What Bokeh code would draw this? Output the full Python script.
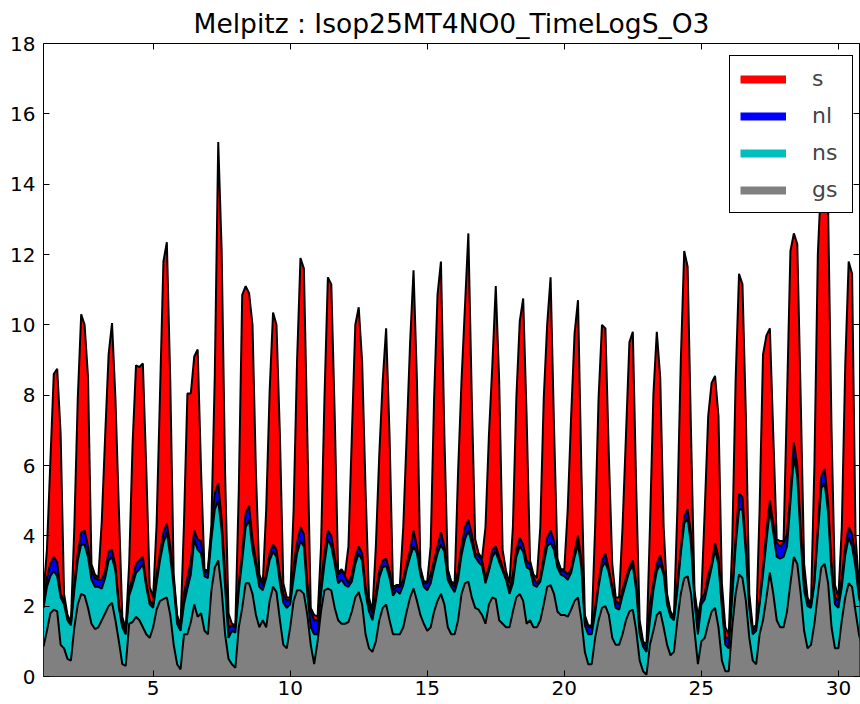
import numpy as np
from bokeh.plotting import figure
from bokeh.models import Range1d, LinearAxis, Legend, LegendItem, FixedTicker
from bokeh.embed import file_html
from bokeh.resources import INLINE

title = "Melpitz : Isop25MT4NO0_TimeLogS_O3"
days = list(range(1, 31))
hours = [0, 3, 6, 9, 12, 15, 18, 21]
x_ticks = [5, 10, 15, 20, 25, 30]
y_ticks = [0, 2, 4, 6, 8, 10, 12, 14, 16, 18]
stack_order = ["gs", "ns", "nl", "s"]
legend_order = ["s", "nl", "ns", "gs"]
colors = {"gs": "#808080", "ns": "#00bfbf", "nl": "#0000ff", "s": "#ff0000"}

gs = [
    0.85, 1.3, 1.8, 1.9, 1.85, 0.9, 0.8, 0.5,
    0.45, 1.4, 2.05, 2.35, 2.3, 1.95, 1.5, 1.35,
    1.4, 1.6, 1.8, 2.0, 2.1, 1.6, 1.0, 0.35,
    0.3, 1.5, 1.55, 1.7, 1.6, 1.4, 1.2, 1.1,
    1.4, 1.9, 2.15, 2.2, 2.25, 1.75, 0.9, 0.35,
    0.2, 1.2, 1.2, 1.55, 2.05, 1.7, 1.8, 1.3,
    1.2, 2.45, 3.1, 3.3, 2.45, 1.2, 0.5, 0.35,
    0.25, 1.4, 1.95, 2.65, 2.65, 2.35, 1.75, 1.4,
    1.6, 1.4, 2.15, 2.55, 2.4, 1.6, 0.9, 0.8,
    1.4, 2.15, 2.45, 2.45, 2.35, 1.75, 0.9, 0.35,
    1.0, 1.85, 2.45, 2.5, 2.45, 1.95, 1.6, 1.5,
    1.5, 1.55, 1.85, 2.25, 2.4, 2.05, 1.2, 0.8,
    0.7, 1.0, 1.6, 1.95, 2.05, 1.6, 1.2, 1.2,
    1.2, 1.4, 1.85, 2.25, 2.5, 2.15, 1.75, 1.5,
    1.3, 1.4, 1.85, 2.15, 2.35, 2.05, 1.4, 1.2,
    1.2, 1.6, 2.35, 2.65, 2.7, 2.25, 1.95, 1.9,
    1.75, 1.5, 2.05, 2.25, 2.2, 1.6, 1.5, 1.4,
    1.4, 1.85, 2.25, 2.35, 2.15, 1.5, 1.6, 1.4,
    1.4, 1.6, 2.05, 2.55, 2.6, 2.35, 1.85, 1.75,
    1.75, 1.7, 1.9, 2.15, 2.25, 1.6, 0.7, 0.35,
    0.35, 1.1, 1.6, 1.95, 2.0, 1.75, 1.1, 0.9,
    0.9, 1.2, 1.6, 1.85, 1.9, 1.3, 0.45, 0.15,
    0.05, 0.9, 1.3, 1.75, 1.85, 1.4, 0.9, 0.6,
    0.7, 1.6, 2.35, 2.8, 2.85, 2.35, 1.3, 0.35,
    1.0, 1.1, 1.5, 1.85, 1.95, 1.4, 0.45, 0.15,
    0.15, 1.4, 2.35, 2.9, 2.8, 2.15, 1.1, 0.45,
    0.35, 1.2, 1.6, 2.25, 2.95, 2.35, 1.6, 1.4,
    1.4, 1.85, 2.65, 3.4, 3.2, 2.35, 1.3, 0.8,
    0.9, 1.5, 2.35, 3.1, 3.2, 2.65, 1.4, 0.8,
    0.8, 1.6, 2.25, 2.65, 2.55, 1.85, 1.2, 0.8,
]

ns = [
    1.1, 1.25, 1.05, 1.1, 1.0, 1.35, 1.25, 1.1,
    1.0, 1.05, 1.25, 1.4, 1.45, 1.45, 1.25, 1.2,
    1.15, 0.9, 1.0, 1.3, 1.3, 1.4, 0.95, 1.05,
    0.9, 0.8, 1.05, 1.25, 1.45, 1.8, 1.35, 0.95,
    0.55, 0.75, 1.15, 1.6, 1.85, 1.65, 1.65, 1.15,
    1.1, 0.85, 1.3, 1.35, 1.85, 1.9, 1.7, 1.55,
    1.6, 1.45, 1.65, 1.7, 1.7, 1.35, 0.6, 0.95,
    1.0, 1.05, 1.35, 1.6, 1.8, 1.25, 1.35, 1.15,
    0.85, 1.4, 1.15, 1.0, 1.0, 1.05, 1.2, 1.15,
    0.65, 0.65, 1.05, 1.4, 1.35, 0.6, 0.5, 0.85,
    0.2, 0.5, 0.75, 1.4, 1.25, 1.25, 1.05, 1.25,
    1.1, 1.0, 0.85, 0.95, 1.1, 1.25, 1.15, 1.05,
    0.9, 1.15, 1.2, 1.15, 1.1, 1.2, 1.1, 1.25,
    1.15, 1.2, 1.2, 1.15, 1.2, 1.35, 1.15, 1.05,
    1.15, 1.25, 1.25, 1.35, 1.4, 1.5, 1.35, 1.35,
    1.2, 1.15, 1.1, 1.25, 1.45, 1.55, 1.45, 1.35,
    1.4, 1.15, 0.95, 1.15, 1.35, 1.65, 1.5, 1.35,
    0.95, 0.8, 1.15, 1.35, 1.4, 1.6, 1.45, 1.2,
    1.15, 1.1, 1.15, 1.15, 1.2, 1.25, 1.25, 1.15,
    1.1, 1.05, 1.05, 1.25, 1.5, 1.5, 0.75, 0.85,
    0.85, 0.7, 0.95, 1.15, 1.25, 1.2, 1.35, 1.05,
    1.0, 1.1, 1.05, 1.15, 1.25, 1.15, 0.75, 0.7,
    0.65, 0.7, 1.15, 1.25, 1.35, 1.5, 1.15, 1.1,
    0.9, 0.85, 1.15, 1.55, 1.65, 1.4, 0.85, 0.85,
    1.05, 1.1, 1.15, 1.25, 1.65, 1.8, 1.5, 0.75,
    0.65, 0.85, 1.35, 1.85, 1.95, 1.35, 0.85, 0.75,
    0.95, 0.85, 1.3, 1.6, 1.8, 1.75, 1.8, 1.95,
    2.0, 1.85, 2.3, 2.85, 2.5, 1.55, 1.15, 1.2,
    1.05, 1.15, 1.7, 2.25, 2.3, 2.0, 1.55, 1.25,
    1.15, 0.95, 1.2, 1.3, 1.15, 1.25, 1.05, 1.05,
]

nl = [
    0.2, 0.25, 0.35, 0.4, 0.4, 0.1, 0.1, 0.1,
    0.05, 0.2, 0.2, 0.35, 0.4, 0.3, 0.25, 0.25,
    0.2, 0.25, 0.2, 0.25, 0.2, 0.15, 0.1, 0.1,
    0.1, 0.15, 0.2, 0.25, 0.25, 0.2, 0.1, 0.1,
    0.1, 0.25, 0.2, 0.3, 0.25, 0.3, 0.2, 0.2,
    0.1, 0.3, 0.3, 0.4, 0.25, 0.3, 0.35, 0.1,
    0.2, 0.2, 0.45, 0.5, 0.3, 0.35, 0.3, 0.15,
    0.15, 0.2, 0.2, 0.4, 0.4, 0.3, 0.2, 0.25,
    0.15, 0.1, 0.2, 0.2, 0.2, 0.25, 0.25, 0.2,
    0.15, 0.3, 0.3, 0.4, 0.35, 0.3, 0.45, 0.4,
    0.4, 0.3, 0.3, 0.25, 0.3, 0.2, 0.25, 0.25,
    0.25, 0.1, 0.2, 0.2, 0.2, 0.2, 0.2, 0.2,
    0.2, 0.2, 0.2, 0.2, 0.2, 0.2, 0.15, 0.1,
    0.2, 0.15, 0.15, 0.2, 0.45, 0.2, 0.15, 0.1,
    0.2, 0.25, 0.2, 0.2, 0.35, 0.15, 0.25, 0.1,
    0.15, 0.25, 0.25, 0.35, 0.3, 0.25, 0.1, 0.2,
    0.15, 0.15, 0.1, 0.2, 0.15, 0.15, 0.1, 0.05,
    0.1, 0.25, 0.2, 0.25, 0.2, 0.2, 0.15, 0.2,
    0.1, 0.1, 0.2, 0.25, 0.35, 0.25, 0.2, 0.1,
    0.15, 0.15, 0.1, 0.15, 0.25, 0.2, 0.15, 0.2,
    0.2, 0.15, 0.1, 0.2, 0.25, 0.1, 0.1, 0.2,
    0.15, 0.15, 0.15, 0.1, 0.15, 0.2, 0.2, 0.1,
    0.15, 0.45, 0.2, 0.2, 0.25, 0.1, 0.2, 0.1,
    0.05, 0.2, 0.1, 0.2, 0.25, 0.3, 0.2, 0.4,
    0.15, 0.15, 0.25, 0.1, 0.2, 0.2, 0.2, 0.2,
    0.3, 0.2, 0.2, 0.45, 0.35, 0.2, 0.2, 0.1,
    0.1, 0.1, 0.2, 0.3, 0.25, 0.25, 0.4, 0.35,
    0.4, 0.35, 0.25, 0.4, 0.3, 0.3, 0.2, 0.15,
    0.05, 0.1, 0.2, 0.35, 0.4, 0.3, 0.25, 0.2,
    0.2, 0.25, 0.25, 0.3, 0.35, 0.3, 0.2, 0.2,
]

s = [
    0.2, 0.8, 2.9, 5.2, 5.5, 4.55, 0.2, 0.05,
    0.05, 1.6, 4.4, 6.2, 5.85, 4.8, 0.2, 0.1,
    0.05, 1.65, 3.85, 5.6, 6.45, 4.75, 2.7, 0.2,
    0.05, 0.75, 3.8, 5.65, 5.5, 5.5, 3.25, 0.4,
    0.2, 1.4, 4.5, 7.7, 8.0, 4.7, 0.15, 0.05,
    0.05, 2.0, 5.25, 4.75, 4.95, 5.4, 1.95, 0.05,
    0.05, 0.2, 3.4, 9.7, 7.65, 2.9, 0.4, 0.05,
    0.05, 2.65, 7.35, 6.45, 6.05, 6.1, 2.5, 0.1,
    0.05, 1.85, 4.6, 6.6, 6.4, 3.95, 0.3, 0.1,
    0.05, 1.65, 5.15, 7.65, 7.55, 4.2, 0.1, 0.15,
    0.1, 1.05, 4.4, 7.2, 7.15, 4.0, 0.05, 0.05,
    0.05, 1.05, 3.95, 6.6, 6.8, 5.45, 2.75, 0.2,
    0.05, 1.35, 3.3, 5.1, 6.55, 3.85, 0.1, 0.05,
    0.05, 1.5, 3.65, 5.9, 7.4, 4.7, 0.05, 0.05,
    0.05, 0.8, 4.6, 7.15, 7.7, 3.15, 0.05, 0.05,
    0.1, 2.8, 4.7, 6.25, 8.15, 3.85, 0.4, 0.05,
    0.05, 1.45, 3.75, 5.25, 7.4, 5.0, 0.5, 0.2,
    0.2, 1.35, 4.3, 6.15, 7.0, 4.1, 0.1, 0.1,
    0.15, 1.45, 4.5, 6.05, 7.2, 3.25, 0.05, 0.05,
    0.05, 1.85, 4.35, 6.2, 6.7, 2.5, 0.15, 0.05,
    0.05, 2.3, 5.25, 6.7, 6.4, 3.25, 0.65, 0.1,
    0.2, 1.8, 4.05, 6.4, 6.5, 2.65, 0.2, 0.05,
    0.05, 2.2, 5.35, 6.6, 5.05, 1.25, 0.1, 0.05,
    0.05, 2.1, 5.35, 7.55, 6.9, 2.8, 0.1, 0.1,
    0.05, 2.4, 4.5, 5.15, 4.75, 4.0, 0.5, 0.3,
    0.1, 1.25, 4.5, 6.25, 6.05, 3.7, 0.2, 0.1,
    0.05, 2.6, 6.05, 5.55, 4.9, 2.5, 0.1, 0.15,
    0.05, 3.85, 6.9, 5.95, 6.3, 3.7, 0.55, 0.1,
    0.05, 3.25, 7.75, 8.5, 8.6, 8.35, 3.8, 0.35,
    0.1, 1.45, 5.15, 7.55, 7.4, 0.6, 0.15, 0.05,
]

series = {"gs": gs, "ns": ns, "nl": nl, "s": s}
t = np.array([d + h / 24.0 for d in days for h in hours])

FONT = "DejaVu Sans"

p = figure(width=860, height=704, x_range=Range1d(1, 30.77), y_range=Range1d(0, 18),
           output_backend="svg", toolbar_location=None,
           min_border_left=43, min_border_right=1, min_border_top=39, min_border_bottom=28)
p.title.text = title
p.title.align = "center"
p.title.text_font = FONT
p.title.text_font_size = "26.5px"
p.title.text_font_style = "normal"
p.title.text_color = "black"

p.grid.visible = False
p.outline_line_color = "black"
p.outline_line_width = 1
p.outline_line_alpha = 1
p.background_fill_color = "white"
p.border_fill_color = "white"

p.xaxis.ticker = FixedTicker(ticks=x_ticks)
p.yaxis.ticker = FixedTicker(ticks=y_ticks)
for ax in (p.xaxis[0], p.yaxis[0]):
    ax.major_tick_in = 6
    ax.major_tick_out = 0
    ax.minor_tick_line_color = None
    ax.axis_line_color = None
    ax.major_tick_line_color = "black"
    ax.major_label_text_font = FONT
    ax.major_label_text_font_size = "20px"
    ax.major_label_text_color = "black"
p.xaxis.major_label_standoff = 4
p.yaxis.major_label_standoff = 8

top_ax = LinearAxis(ticker=FixedTicker(ticks=x_ticks), major_label_text_font_size="1px",
                    major_label_text_color=None, major_label_text_alpha=0,
                    major_tick_in=6, major_tick_out=0, axis_line_color=None,
                    minor_tick_line_color=None, major_label_standoff=0)
right_ax = LinearAxis(ticker=FixedTicker(ticks=y_ticks), major_label_text_font_size="1px",
                      major_label_text_color=None, major_label_text_alpha=0,
                      major_tick_in=6, major_tick_out=0, axis_line_color=None,
                      minor_tick_line_color=None, major_label_standoff=0)
p.add_layout(top_ax, "above")
p.add_layout(right_ax, "right")

lower = np.zeros(len(t))
tops = []
for name in stack_order:
    upper = lower + np.array(series[name])
    p.varea(x=t, y1=lower, y2=upper, fill_color=colors[name], fill_alpha=1)
    tops.append(upper)
    lower = upper
for upper in tops:
    p.line(t, upper, line_color="black", line_width=2)

items = []
for name in legend_order:
    r = p.line(x=[t[0]], y=[np.nan], line_color=colors[name], line_width=8)
    items.append(LegendItem(label=name, renderers=[r]))
legend = Legend(items=items, location=(686, 463), margin=0,
                border_line_color="black", border_line_width=1, border_line_alpha=1,
                background_fill_color="white", background_fill_alpha=1,
                label_text_font=FONT, label_text_font_size="22px",
                glyph_width=46, glyph_height=24, spacing=12, padding=10,
                label_standoff=26, label_width=30)
p.add_layout(legend)

open("out.html", "w").write(file_html(p, INLINE))
